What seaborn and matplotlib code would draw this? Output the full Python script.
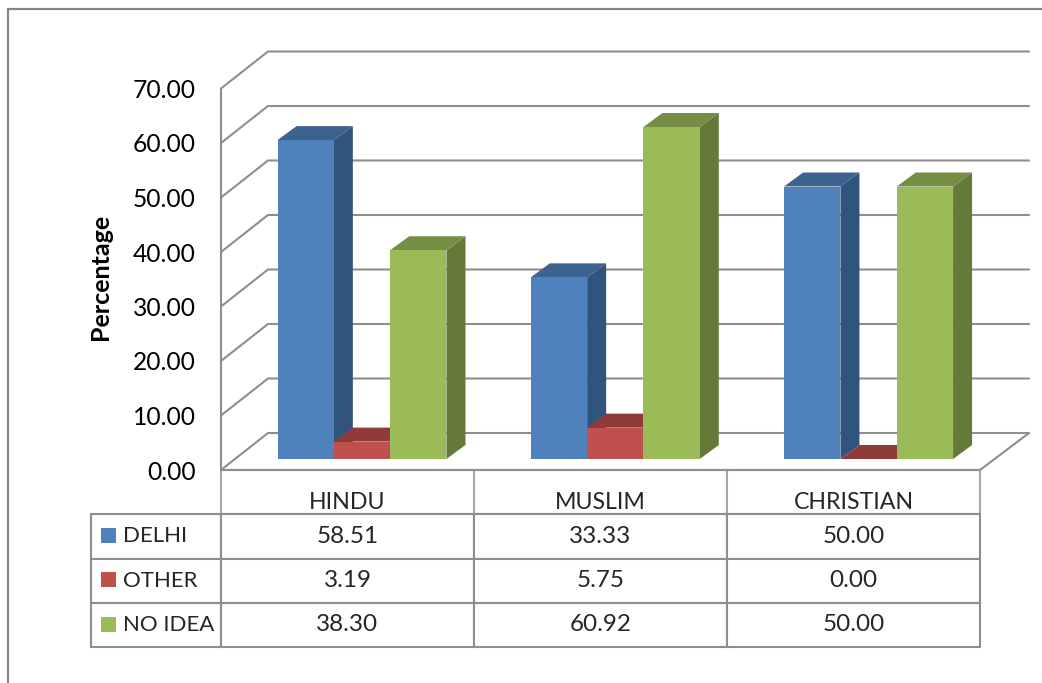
import matplotlib
matplotlib.use("Agg")
import matplotlib.pyplot as plt
import numpy as np
import pandas as pd
import seaborn as sns
from matplotlib.lines import Line2D
from matplotlib.patches import Polygon, Rectangle
from matplotlib.table import Table
from matplotlib.transforms import ScaledTranslation

religions = ["HINDU", "MUSLIM", "CHRISTIAN"]
series_names = ["DELHI", "OTHER", "NO IDEA"]
delhi = [58.51, 33.33, 50.00]
other = [3.19, 5.75, 0.00]
no_idea = [38.30, 60.92, 50.00]
y_ticks = [0, 10, 20, 30, 40, 50, 60, 70]

front_colors = ["#4F81BD", "#C0504D", "#9BBB59"]
side_colors = ["#31547C", "#8C3836", "#657A39"]
top_colors = ["#3C6290", "#8F3B39", "#758E43"]
line_color = "#8E8E8E"

W, H = 1042, 683
FONT = "Lato"
TICK_SIZE = 17.7
VALUE_SIZE = 17.5
LABEL_SIZE = 16

sns.set_theme(style="white")
plt.rcParams["font.family"] = [FONT, "DejaVu Sans"]

fig = plt.figure(figsize=(W / 100, H / 100), dpi=100, facecolor="white")

# plot area: the front plane of the bars, in pixel terms
left_px, right_px, base_px, top_px = 221, 980, 459, 77.5
ax = fig.add_axes([left_px / W, 1 - base_px / H,
                   (right_px - left_px) / W, (base_px - top_px) / H])
ax.patch.set_alpha(0)

frame = pd.DataFrame({
    "religion": religions * 3,
    "series": np.repeat(series_names, 3),
    "value": delhi + other + no_idea,
})
sns.barplot(data=frame, x="religion", y="value", hue="series",
            hue_order=series_names, palette=front_colors, width=0.667,
            gap=0, dodge=True, linewidth=0, saturation=1, legend=False,
            errorbar=None, ax=ax)

group_px = 253.3
first_center_px = 362
ax.set_xlim((left_px - first_center_px) / group_px,
            (right_px - first_center_px) / group_px)
ax.set_ylim(0, 70)
px_per_unit = (base_px - top_px) / 70


def dx(pixels):
    return pixels / group_px


def dy(pixels):
    return pixels / px_per_unit


x_left = ax.get_xlim()[0]
x_right = ax.get_xlim()[1]
wall_kw = dict(color=line_color, lw=1.5, clip_on=False, zorder=1,
               solid_capstyle="round", solid_joinstyle="round")

# back wall and side wall gridlines
for tick in y_ticks:
    ax.plot([x_left, x_left + dx(47), x_left + dx(808)],
            [tick - dy(11), tick + dy(26), tick + dy(26)], **wall_kw)
ax.plot([x_left, x_left], [-dy(11), 70 - dy(11)], **wall_kw)
# front edge of the floor
ax.plot([x_left, x_right, x_left + dx(808)],
        [-dy(11), -dy(11), dy(26)], **wall_kw)

# extrude each bar: side and top faces behind its front face
depth_x, depth_y = dx(19), dy(14)
bars = list(ax.patches)
for bar, series_index in zip(bars, np.repeat(range(3), 3)):
    x0, h, w = bar.get_x(), bar.get_height(), bar.get_width()
    order = 2 + series_index
    bar.set_zorder(order + 0.5)
    side = Polygon([(x0 + w, 0), (x0 + w + depth_x, depth_y),
                    (x0 + w + depth_x, h + depth_y), (x0 + w, h)],
                   closed=True, fc=side_colors[series_index], ec="none",
                   zorder=order)
    top = Polygon([(x0, h), (x0 + depth_x, h + depth_y),
                   (x0 + w + depth_x, h + depth_y), (x0 + w, h)],
                  closed=True, fc=top_colors[series_index], ec="none",
                  zorder=order + 0.2)
    ax.add_patch(side)
    ax.add_patch(top)

# value axis labels sit on the front corner of the side wall
ax.set_yticks(y_ticks)
ax.set_yticklabels([f"{t:.2f}" for t in y_ticks], fontsize=TICK_SIZE,
                   color="black")
ax.tick_params(axis="y", length=0, pad=18)
shift = ScaledTranslation(0, -11 / 100, fig.dpi_scale_trans)
for label in ax.get_yticklabels():
    label.set_transform(label.get_transform() + shift)
ax.set_xticks([])
ax.set_xlabel("")
ax.set_ylabel("Percentage", fontsize=18, fontweight="bold", color="black")
ax.yaxis.set_label_coords((112 - left_px) / (right_px - left_px),
                          (base_px - 277) / (base_px - top_px))
for spine in ax.spines.values():
    spine.set_visible(False)

# data table under the plot, with the legend keys in its first column
col_px = [91, 221, 474, 727, 980]
row_px = [470, 514, 558.5, 603, 647]
axes_w = right_px - left_px
axes_h = base_px - top_px
table = Table(ax, bbox=[(col_px[0] - left_px) / axes_w,
                        (base_px - row_px[-1]) / axes_h,
                        (col_px[-1] - col_px[0]) / axes_w,
                        (row_px[-1] - row_px[0]) / axes_h])
widths = [col_px[i + 1] - col_px[i] for i in range(4)]
row_values = [delhi, other, no_idea]
edge_kw = dict(edgecolor=line_color)
table.auto_set_font_size(False)
for c, name in enumerate(religions):
    cell = table.add_cell(0, c + 1, widths[c + 1], 44, text=name, loc="center",
                          edgecolor="#A8A8A8")
    cell.set_linewidth(1.5)
    cell.set_fontsize(LABEL_SIZE + 0.7)
    cell.get_text().set_verticalalignment("top")
for r, (name, values) in enumerate(zip(series_names, row_values)):
    cell = table.add_cell(r + 1, 0, widths[0], 44, text=name, loc="left", **edge_kw)
    cell.PAD = 32 / widths[0]
    cell.set_linewidth(1.5)
    cell.set_fontsize(LABEL_SIZE)
    for c, value in enumerate(values):
        cell = table.add_cell(r + 1, c + 1, widths[c + 1], 44,
                              text=f"{value:.2f}", loc="center", **edge_kw)
        cell.set_linewidth(1.5)
        cell.set_fontsize(VALUE_SIZE)
ax.add_table(table)

# legend keys
for r, color in enumerate(front_colors):
    center = (row_px[r + 1] + row_px[r + 2]) / 2 - 1
    fig.add_artist(Rectangle((101 / W, 1 - (center + 7.5) / H), 15 / W, 15 / H,
                             transform=fig.transFigure, fc=color, ec="none"))

# outer chart border, cut off by the page edge
border_kw = dict(color="#858585", lw=1.6, transform=fig.transFigure)
fig.add_artist(Line2D([8 / W, 8 / W], [0, 1 - 9 / H], **border_kw))
fig.add_artist(Line2D([8 / W, 1], [1 - 9 / H, 1 - 9 / H], **border_kw))

fig.savefig("out.png", dpi=100, facecolor="white")
